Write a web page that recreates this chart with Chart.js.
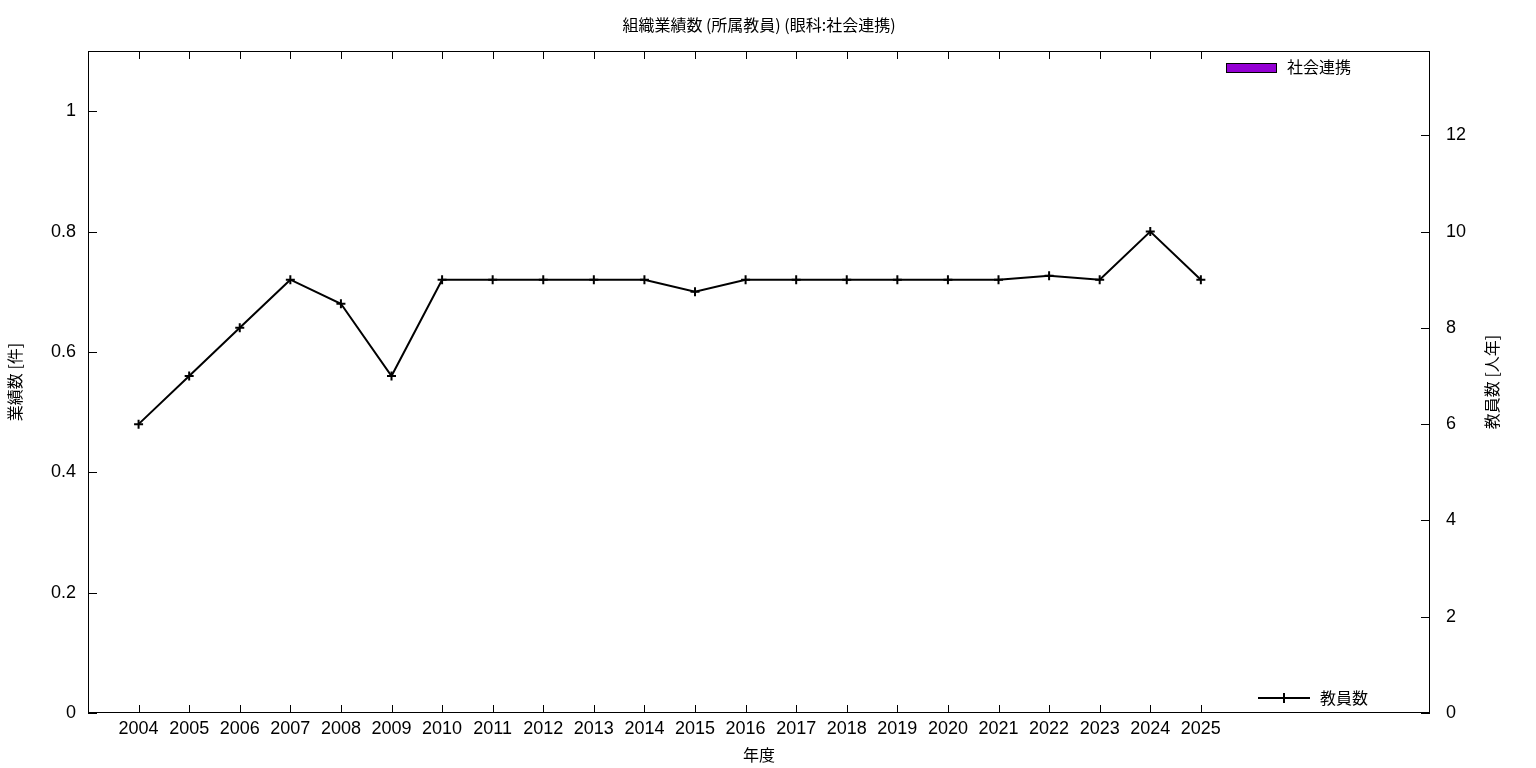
<!DOCTYPE html>
<html>
<head>
<meta charset="utf-8">
<script src="https://cdn.jsdelivr.net/npm/chart.js@4.4.1/dist/chart.umd.min.js"></script>
<style>
  body { margin: 0; background: #fff; }
  #wrap { width: 1536px; height: 768px; }
</style>
</head>
<body>
<div id="wrap"><canvas id="orgChart" width="1536" height="768"></canvas></div>
<script>
var years = [2004, 2005, 2006, 2007, 2008, 2009, 2010, 2011, 2012, 2013, 2014,
             2015, 2016, 2017, 2018, 2019, 2020, 2021, 2022, 2023, 2024, 2025];
var works = [0, 0, 0, 0, 0, 0, 0, 0, 0, 0, 0, 0, 0, 0, 0, 0, 0, 0, 0, 0, 0, 0];
var staff = [6, 7, 8, 9, 8.5, 7, 9, 9, 9, 9, 9, 8.75, 9, 9, 9, 9, 9, 9, 9.08, 9, 10, 9];
var leftTicks = [0, 0.2, 0.4, 0.6, 0.8, 1];
var rightTicks = [0, 2, 4, 6, 8, 10, 12];

var titleText = "組織業績数 (所属教員) (眼科:社会連携)";
var xTitle = "年度";
var yTitle = "業績数 [件]";
var y2Title = "教員数 [人年]";

var fontFamily = '"Liberation Sans", "Noto Sans CJK JP", sans-serif';
var cjkFont = '"Noto Sans CJK JP", "Liberation Sans", sans-serif';

function setTicks(list) {
    return function(scale) {
        scale.ticks = list.map(function(v) { return { value: v }; });
    };
}

var gnuplotFrame = {
    id: 'gnuplotFrame',
    afterDraw: function(chart) {
        var ctx = chart.ctx;
        var area = chart.chartArea;
        var xs = chart.scales.x, ys = chart.scales.y, y2s = chart.scales.y2;
        ctx.save();
        ctx.strokeStyle = '#000';
        ctx.lineWidth = 1;
        ctx.strokeRect(Math.round(area.left) + 0.5, Math.round(area.top) + 0.5,
                       Math.round(area.right - area.left) - 1, Math.round(area.bottom - area.top) - 1);

        // inward tics
        ctx.beginPath();
        years.forEach(function(yr) {
            var px = Math.round(xs.getPixelForValue(yr)) + 0.5;
            ctx.moveTo(px, area.bottom); ctx.lineTo(px, area.bottom - 8);
            ctx.moveTo(px, area.top); ctx.lineTo(px, area.top + 8);
        });
        leftTicks.forEach(function(v) {
            var py = Math.round(ys.getPixelForValue(v)) + 0.5;
            ctx.moveTo(area.left, py); ctx.lineTo(area.left + 9, py);
        });
        rightTicks.forEach(function(v) {
            var py = Math.round(y2s.getPixelForValue(v)) + 0.5;
            ctx.moveTo(area.right, py); ctx.lineTo(area.right - 9, py);
        });
        ctx.stroke();

        // titles
        ctx.fillStyle = '#000';
        ctx.textAlign = 'center';
        ctx.textBaseline = 'middle';
        ctx.font = '16px ' + cjkFont;
        ctx.fillText(titleText, (area.left + area.right) / 2, 25);
        ctx.fillText(xTitle, (area.left + area.right) / 2, 755);

        var midY = (area.top + area.bottom) / 2;
        ctx.save();
        ctx.translate(15, midY);
        ctx.rotate(-Math.PI / 2);
        ctx.fillText(yTitle, 0, 0);
        ctx.restore();
        ctx.save();
        ctx.translate(1492, midY);
        ctx.rotate(-Math.PI / 2);
        ctx.fillText(y2Title, 0, 0);
        ctx.restore();

        // legends
        var barSet = chart.data.datasets[0];
        var lineSet = chart.data.datasets[1];
        ctx.textAlign = 'left';
        ctx.fillStyle = barSet.backgroundColor;
        ctx.fillRect(1226, 63, 50, 9);
        ctx.strokeStyle = '#000';
        ctx.strokeRect(1226.5, 63.5, 50, 9);
        ctx.fillStyle = '#000';
        ctx.fillText(barSet.label, 1287, 67);

        ctx.beginPath();
        ctx.lineWidth = 2;
        ctx.moveTo(1258, 698); ctx.lineTo(1310, 698);
        ctx.moveTo(1284, 693); ctx.lineTo(1284, 703);
        ctx.stroke();
        ctx.fillText(lineSet.label, 1320, 698);
        ctx.restore();
    }
};

var canvas = document.getElementById("orgChart");

new Chart(canvas, {
    data: {
        datasets: [{
            type: 'bar',
            label: "社会連携",
            data: years.map(function(yr, i) { return { x: yr, y: works[i] }; }),
            backgroundColor: '#9400d3',
            borderColor: '#000',
            borderWidth: 0,
            barPercentage: 0.7,
            yAxisID: 'y'
        }, {
            type: 'line',
            label: "教員数",
            data: years.map(function(yr, i) { return { x: yr, y: staff[i] }; }),
            borderColor: '#000',
            backgroundColor: '#000',
            borderWidth: 2,
            tension: 0,
            fill: false,
            pointStyle: 'cross',
            pointRadius: 4.5,
            pointBorderWidth: 2,
            pointHoverRadius: 4.5,
            yAxisID: 'y2'
        }]
    },
    options: {
        responsive: false,
        animation: false,
        devicePixelRatio: 1,
        layout: { padding: { top: 51, left: 0, right: 0, bottom: 0 } },
        plugins: {
            legend: { display: false },
            title: { display: false },
            tooltip: { enabled: false }
        },
        scales: {
            x: {
                type: 'linear',
                offset: false,
                min: 2003,
                max: 2029.53,
                afterBuildTicks: setTicks(years),
                afterFit: function(scale) { scale.height = 55; },
                grid: { display: false, drawTicks: false },
                border: { display: false },
                ticks: {
                    autoSkip: false,
                    maxRotation: 0,
                    padding: 5,
                    color: '#000',
                    font: { family: fontFamily, size: 18 },
                    callback: function(value) { return String(value); }
                }
            },
            y: {
                position: 'left',
                min: 0,
                max: 1.1,
                afterBuildTicks: setTicks(leftTicks),
                afterFit: function(scale) { scale.width = 88; },
                grid: { display: false, drawTicks: false },
                border: { display: false },
                ticks: {
                    padding: 12,
                    color: '#000',
                    font: { family: fontFamily, size: 18 },
                    callback: function(value) { return String(Math.round(value * 10) / 10); }
                }
            },
            y2: {
                position: 'right',
                min: 0,
                max: 13.75,
                afterBuildTicks: setTicks(rightTicks),
                afterFit: function(scale) { scale.width = 106; },
                grid: { display: false, drawTicks: false },
                border: { display: false },
                ticks: {
                    padding: 16,
                    color: '#000',
                    font: { family: fontFamily, size: 18 },
                    callback: function(value) { return String(value); }
                }
            }
        }
    },
    plugins: [gnuplotFrame]
});
</script>
</body>
</html>
